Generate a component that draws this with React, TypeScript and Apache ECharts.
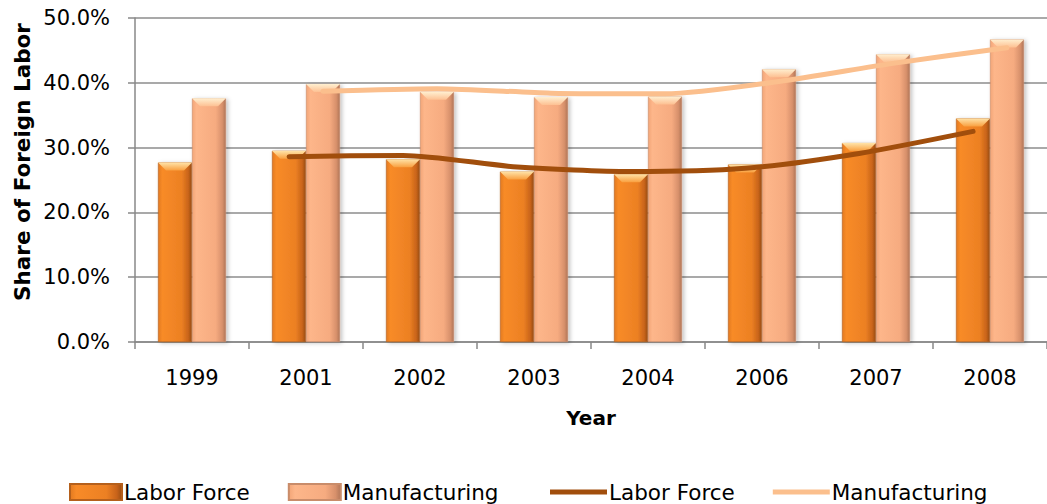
import React, { useEffect, useRef } from "react";
import * as echarts from "echarts";

const years = ["1999", "2001", "2002", "2003", "2004", "2006", "2007", "2008"];
const laborBars = [27.7, 29.5, 28.2, 26.3, 25.9, 27.4, 30.7, 34.5];
const mfgBars = [37.6, 39.8, 38.6, 37.8, 37.9, 42.1, 44.4, 46.7];
const laborTrend = [null, 28.6, 28.8, 27.0, 26.3, 26.8, 29.1, 32.5];
const mfgTrend = [null, 38.7, 39.1, 38.4, 38.3, 40.2, 43.0, 45.4];
const yTicks = [0, 10, 20, 30, 40, 50];

const FONT = "'DejaVu Sans', sans-serif";

export default function App() {
  const ref = useRef<HTMLDivElement>(null);
  useEffect(() => {
    const chart = echarts.init(ref.current!, null, { renderer: "svg" });
    const gridLeft = 135;
    const gridRight = -4;
    const width = 1047;
    const barWidth = 34;
    const catW = (width - gridLeft - gridRight) / years.length;
    const off = barWidth / 2 / catW;

    const toPairs = (arr: (number | null)[], shift: number) =>
      arr.map((v, i) => (v == null ? null : [i + shift, v])).filter((p) => p != null);

    const laborGrad = new echarts.graphic.LinearGradient(0, 0, 1, 0, [
      { offset: 0, color: "#E27A20" },
      { offset: 0.12, color: "#F88B28" },
      { offset: 0.7, color: "#EC8023" },
      { offset: 0.9, color: "#C8631A" },
      { offset: 1, color: "#9A4E14" },
    ]);
    const mfgGrad = new echarts.graphic.LinearGradient(0, 0, 1, 0, [
      { offset: 0, color: "#F2A577" },
      { offset: 0.12, color: "#FDB68A" },
      { offset: 0.7, color: "#F6AB80" },
      { offset: 0.9, color: "#D7906B" },
      { offset: 1, color: "#B07658" },
    ]);
    const laborTop = new echarts.graphic.LinearGradient(0, 0, 0, 1, [
      { offset: 0, color: "#FFE3A8" },
      { offset: 1, color: "#F9A040" },
    ]);
    const mfgTop = new echarts.graphic.LinearGradient(0, 0, 0, 1, [
      { offset: 0, color: "#FFEFD0" },
      { offset: 1, color: "#FDC092" },
    ]);
    const bevel = "path://M0,0 L34,0 L26,8 L8,8 Z";

    const legendText = { fontSize: 21.5, color: "#000", fontFamily: FONT, padding: [0, 0, 0, -3] };

    chart.setOption({
      animation: false,
      backgroundColor: "#ffffff",
      textStyle: { fontFamily: FONT },
      grid: { left: gridLeft, right: gridRight, top: 18, bottom: 504 - 342 },
      legend: [
        {
          data: ["Labor Force", "Manufacturing"],
          left: 64,
          top: 476,
          itemWidth: 52,
          itemHeight: 16,
          itemGap: 38,
          icon: "rect",
          textStyle: legendText,
        },
        {
          data: ["Labor Force trend", "Manufacturing trend"],
          left: 545,
          top: 476,
          itemWidth: 57,
          itemHeight: 5,
          itemGap: 38,
          icon: "rect",
          textStyle: legendText,
          formatter: (n: string) => n.replace(" trend", ""),
        },
      ],
      xAxis: [
        {
          type: "category",
          data: years,
          axisLine: { lineStyle: { color: "#888", width: 1.5 } },
          axisTick: { show: true, length: 7, lineStyle: { color: "#888", width: 1.5 } },
          axisLabel: { fontSize: 21, color: "#000", margin: 25, fontFamily: FONT },
          name: "Year",
          nameLocation: "middle",
          nameGap: 66,
          nameTextStyle: { fontSize: 20, fontWeight: "bold", color: "#000", fontFamily: FONT },
        },
        {
          type: "value",
          min: -0.5,
          max: years.length - 0.5,
          show: false,
        },
      ],
      yAxis: {
        type: "value",
        min: 0,
        max: 50,
        interval: 10,
        axisLine: { show: true, onZero: false, lineStyle: { color: "#888", width: 1.5 } },
        axisTick: { show: true, length: 7, lineStyle: { color: "#888", width: 1.5 } },
        splitLine: { lineStyle: { color: "#8c8c8c", width: 1.5 } },
        axisLabel: {
          fontSize: 21,
          color: "#000",
          margin: 25,
          fontFamily: FONT,
          formatter: (v: number) => (yTicks.includes(v) ? v.toFixed(1) + "%" : ""),
        },
      },
      graphic: [
        {
          type: "text",
          x: 22,
          y: 162,
          rotation: Math.PI / 2,
          style: {
            text: "Share of Foreign Labor",
            font: `bold 21.5px ${FONT}`,
            fill: "#000",
            align: "center",
            verticalAlign: "middle",
          },
        },
      ],
      series: [
        {
          name: "Labor Force",
          type: "bar",
          data: laborBars,
          barWidth,
          barGap: "0%",
          itemStyle: {
            color: laborGrad,
            borderColor: "#B5601C",
            borderWidth: 0.6,
            shadowColor: "rgba(0,0,0,0.25)",
            shadowBlur: 4,
            shadowOffsetX: 2,
            shadowOffsetY: 1,
          },
        },
        {
          name: "Manufacturing",
          type: "bar",
          data: mfgBars,
          barWidth,
          barGap: "0%",
          itemStyle: {
            color: mfgGrad,
            borderColor: "#C98C6A",
            borderWidth: 0.6,
            shadowColor: "rgba(0,0,0,0.25)",
            shadowBlur: 4,
            shadowOffsetX: 2,
            shadowOffsetY: 1,
          },
        },
        {
          name: "labor-top",
          type: "pictorialBar",
          data: laborBars,
          barWidth,
          barGap: "0%",
          symbol: bevel,
          symbolSize: [barWidth, 8],
          symbolPosition: "end",
          symbolOffset: [0, 0],
          itemStyle: { color: laborTop },
          silent: true,
          z: 3,
        },
        {
          name: "mfg-top",
          type: "pictorialBar",
          data: mfgBars,
          barWidth,
          barGap: "0%",
          symbol: bevel,
          symbolSize: [barWidth, 8],
          symbolPosition: "end",
          symbolOffset: [0, 0],
          itemStyle: { color: mfgTop },
          silent: true,
          z: 3,
        },
        {
          name: "Labor Force trend",
          type: "line",
          xAxisIndex: 1,
          data: toPairs(laborTrend, -off),
          showSymbol: false,
          smooth: 0.25,
          color: "#A14E0C",
          itemStyle: { color: "#A14E0C" },
          lineStyle: { color: "#A14E0C", width: 5, cap: "round", join: "round" },
          z: 5,
        },
        {
          name: "Manufacturing trend",
          type: "line",
          xAxisIndex: 1,
          data: toPairs(mfgTrend, off),
          showSymbol: false,
          smooth: 0.25,
          color: "#FBBF8D",
          itemStyle: { color: "#FBBF8D" },
          lineStyle: { color: "#FBBF8D", width: 5, cap: "round", join: "round" },
          z: 5,
        },
      ],
    });
    return () => chart.dispose();
  }, []);
  return (
    <div
      ref={ref}
      style={{ position: "absolute", left: 0, top: 0, width: 1047, height: 504 }}
    />
  );
}
